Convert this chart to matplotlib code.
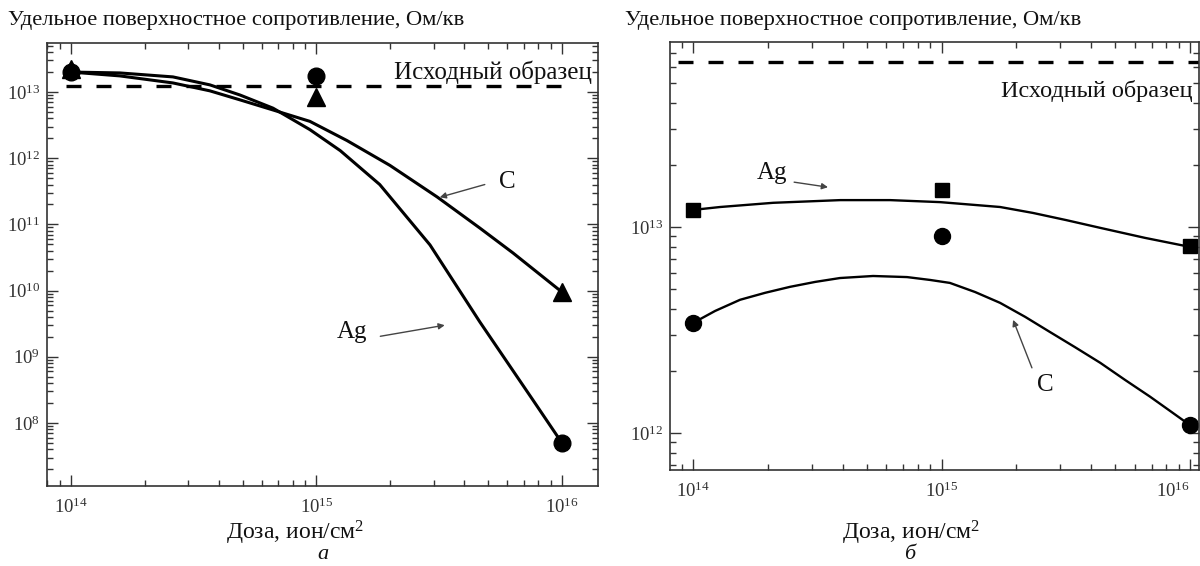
import matplotlib
matplotlib.use('Agg')
import matplotlib.pyplot as plt
from matplotlib.ticker import FixedLocator, FixedFormatter, LogLocator, NullFormatter

plt.rcParams['font.family'] = ['Liberation Serif', 'DejaVu Serif']
plt.rcParams['mathtext.fontset'] = 'custom'
plt.rcParams['mathtext.rm'] = 'Liberation Serif'
plt.rcParams['mathtext.it'] = 'Liberation Serif:italic'

# ---------------- data ----------------
doses = [1e14, 1e15, 1e16]

# panel a
a_C_points = [2.2e13, 8.4e12, 9.5e9]      # triangles
a_Ag_points = [2.0e13, 1.75e13, 5.0e7]    # circles
a_C_curve_x = [1e14, 1.58e14, 2.6e14, 3.68e14, 4.88e14, 6.65e14, 9.4e14, 1.33e15,
               1.99e15, 3.1e15, 4.63e15, 6.32e15, 1e16]
a_C_curve_y = [2.0e13, 1.75e13, 1.37e13, 1.04e13, 7.6e12, 5.35e12, 3.6e12, 1.85e12,
               7.8e11, 2.6e11, 8.8e10, 3.7e10, 9.5e9]
a_Ag_curve_x = [1e14, 1.58e14, 2.6e14, 3.68e14, 4.88e14, 6.65e14, 9.4e14, 1.25e15,
                1.81e15, 2.9e15, 4.63e15, 7.62e15, 1e16]
a_Ag_curve_y = [2.0e13, 1.94e13, 1.69e13, 1.28e13, 9.0e12, 5.7e12, 2.7e12, 1.3e12,
                4.0e11, 4.9e10, 3.36e9, 2.22e8, 5.0e7]
a_initial = 1.24e13

# panel b
b_Ag_points = [1.21e13, 1.51e13, 8.1e12]  # squares
b_C_points = [3.42e12, 9.0e12, 1.09e12]   # circles
b_Ag_curve_x = [1e14, 1.285e14, 2.1e14, 3.91e14, 6.21e14, 9.86e14, 1.72e15, 2.33e15,
                3.17e15, 4.35e15, 6.59e15, 1e16]
b_Ag_curve_y = [1.21e13, 1.25e13, 1.31e13, 1.35e13, 1.35e13, 1.32e13, 1.25e13, 1.17e13,
                1.08e13, 9.9e12, 8.85e12, 8.0e12]
b_C_curve_x = [1e14, 1.226e14, 1.545e14, 1.95e14, 2.455e14, 3.1e14, 3.9e14, 5.3e14,
               7.26e14, 8.99e14, 1.08e15, 1.365e15, 1.72e15, 2.17e15, 2.73e15, 3.44e15,
               4.35e15, 5.47e15, 6.9e15, 8.3e15, 1e16]
b_C_curve_y = [3.42e12, 3.91e12, 4.43e12, 4.79e12, 5.12e12, 5.41e12, 5.65e12, 5.78e12,
               5.71e12, 5.53e12, 5.35e12, 4.83e12, 4.28e12, 3.66e12, 3.09e12, 2.61e12,
               2.19e12, 1.81e12, 1.50e12, 1.28e12, 1.09e12]
b_initial = 6.3e13

x_ticks = [1e14, 1e15, 1e16]
x_ticklabels = ['$10^{14}$', '$10^{15}$', '$10^{16}$']
a_y_ticks = [1e8, 1e9, 1e10, 1e11, 1e12, 1e13]
a_y_ticklabels = ['$10^{8}$', '$10^{9}$', '$10^{10}$', '$10^{11}$', '$10^{12}$', '$10^{13}$']
b_y_ticks = [1e12, 1e13]
b_y_ticklabels = ['$10^{12}$', '$10^{13}$']

y_title = 'Удельное поверхностное сопротивление, Ом/кв'
x_title = 'Доза, ион/см$^2$'
initial_label = 'Исходный образец'

# ---------------- figure ----------------
W, H = 1200, 566
fig = plt.figure(figsize=(W / 100, H / 100), dpi=100)

def px_axes(l, t, r, b):
    return fig.add_axes([l / W, 1 - b / H, (r - l) / W, (b - t) / H])

axA = px_axes(47, 43, 598, 486)
axB = px_axes(670, 42, 1199, 470)

spine_col = '#333333'
txt_col = '#111111'

def style(ax, yticks, ylabels):
    ax.set_xscale('log')
    ax.set_yscale('log')
    for s in ax.spines.values():
        s.set_color(spine_col)
        s.set_linewidth(1.2)
    ax.xaxis.set_major_locator(FixedLocator(x_ticks))
    ax.xaxis.set_major_formatter(FixedFormatter(x_ticklabels))
    ax.yaxis.set_major_locator(FixedLocator(yticks))
    ax.yaxis.set_major_formatter(FixedFormatter(ylabels))
    ax.xaxis.set_minor_locator(LogLocator(base=10, subs=range(2, 10), numticks=50))
    ax.yaxis.set_minor_locator(LogLocator(base=10, subs=range(2, 10), numticks=50))
    ax.xaxis.set_minor_formatter(NullFormatter())
    ax.yaxis.set_minor_formatter(NullFormatter())
    ax.tick_params(which='both', direction='in', top=True, right=True,
                   color=spine_col, width=1.0, labelsize=13.5, labelcolor='#333333')
    ax.tick_params(which='major', length=8)
    ax.tick_params(which='minor', length=4)
    ax.tick_params(axis='x', pad=8)
    ax.tick_params(axis='y', pad=5)

# ----- panel a -----
style(axA, a_y_ticks, a_y_ticklabels)
axA.set_xlim(10 ** 13.902, 10 ** 16.147)
axA.set_ylim(10 ** 7.048, 10 ** 13.74)
axA.plot([9.5e13, 1.0e16], [a_initial, a_initial], color='black', lw=2.4,
         linestyle=(0, (4.5, 4.5)), dash_capstyle='butt')
axA.plot(a_C_curve_x, a_C_curve_y, color='black', lw=2.2, solid_capstyle='round',
         solid_joinstyle='round')
axA.plot(a_Ag_curve_x, a_Ag_curve_y, color='black', lw=2.2, solid_capstyle='round',
         solid_joinstyle='round')
axA.plot(doses, a_Ag_points, 'o', color='black', ms=12)
axA.plot(doses, a_C_points, '^', color='black', ms=13)
axA.text(1.32e16, 2.0e13, initial_label, ha='right', va='center', fontsize=18, color=txt_col)
axA.text(6.0e15, 4.3e11, 'C', ha='center', va='center', fontsize=18, color=txt_col)
axA.annotate('', xy=(3.18e15, 2.57e11), xytext=(4.85e15, 4.0e11),
             arrowprops=dict(arrowstyle='-|>', color='#444444', lw=1.0,
                             mutation_scale=9, shrinkA=0, shrinkB=0))
axA.text(1.40e15, 2.37e9, 'Ag', ha='center', va='center', fontsize=18, color=txt_col)
axA.annotate('', xy=(3.33e15, 3.0e9), xytext=(1.82e15, 2.04e9),
             arrowprops=dict(arrowstyle='-|>', color='#444444', lw=1.0,
                             mutation_scale=9, shrinkA=0, shrinkB=0))

# ----- panel b -----
style(axB, b_y_ticks, b_y_ticklabels)
axB.set_xlim(10 ** 13.907, 10 ** 16.036)
axB.set_ylim(10 ** 11.82, 10 ** 13.898)
axB.plot([8.7e13, 1.2e16], [b_initial, b_initial], color='black', lw=2.4,
         linestyle=(0, (4.5, 4.5)), dash_capstyle='butt')
axB.plot(b_Ag_curve_x, b_Ag_curve_y, color='black', lw=1.7, solid_joinstyle='round')
axB.plot(b_C_curve_x, b_C_curve_y, color='black', lw=1.7, solid_joinstyle='round')
axB.plot(doses, b_Ag_points, 's', color='black', ms=10)
axB.plot(doses, b_C_points, 'o', color='black', ms=11.5)
axB.text(1.02e16, 4.57e13, initial_label, ha='right', va='center', fontsize=17.5, color=txt_col)
axB.text(2.08e14, 1.83e13, 'Ag', ha='center', va='center', fontsize=18, color=txt_col)
axB.annotate('', xy=(3.49e14, 1.56e13), xytext=(2.55e14, 1.65e13),
             arrowprops=dict(arrowstyle='-|>', color='#444444', lw=1.0,
                             mutation_scale=9, shrinkA=0, shrinkB=0))
axB.text(2.61e15, 1.71e12, 'C', ha='center', va='center', fontsize=18, color=txt_col)
axB.annotate('', xy=(1.94e15, 3.54e12), xytext=(2.31e15, 2.07e12),
             arrowprops=dict(arrowstyle='-|>', color='#444444', lw=1.0,
                             mutation_scale=9, shrinkA=0, shrinkB=0))
lbls = axB.get_xticklabels()
lbls[-1].set_ha('right')

# ----- figure texts -----
fig.text(8 / W, 1 - 20 / H, y_title, ha='left', va='center', fontsize=16.2, color=txt_col)
fig.text(625 / W, 1 - 20 / H, y_title, ha='left', va='center', fontsize=16.2, color=txt_col)
fig.text(295 / W, 1 - 533 / H, x_title, ha='center', va='center', fontsize=17, color=txt_col)
fig.text(911 / W, 1 - 533 / H, x_title, ha='center', va='center', fontsize=17, color=txt_col)
fig.text(323 / W, 2 / H, 'а', ha='center', va='bottom', fontsize=16, style='italic', color=txt_col)
fig.text(910 / W, 2 / H, 'б', ha='center', va='bottom', fontsize=16, style='italic', color=txt_col)

fig.savefig('out.png', dpi=100)
